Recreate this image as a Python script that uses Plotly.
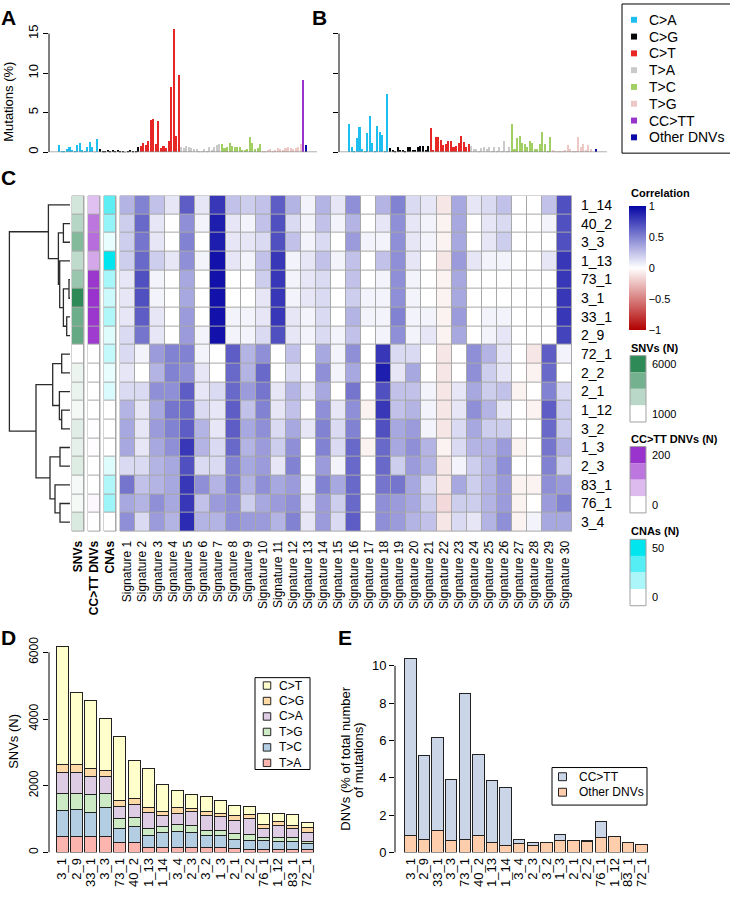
import plotly.graph_objects as go

W, H = 730, 900
FONT = "Liberation Sans, Arial, Helvetica, sans-serif"

# ---------------- Panels A / B : mutational spectra (% of mutations) ----------------
spectrum_classes = ["C>A", "C>G", "C>T", "T>A", "T>C", "T>G", "CC>TT", "Other DNVs"]
spectrum_colors = ["#1EBFF0", "#050708", "#E62725", "#CBCACB", "#A1CF64", "#EDC8C5", "#9933CC", "#0A0AA8"]
bases = ["A", "C", "G", "T"]

a_CA = [0.9, 0.1, 0.1, 0.4, 0.7, 0.3, 0.1, 0.9, 1.15, 0.25, 0.1, 0.65, 1.3, 0.7, 0.05, 1.7]
a_CG = [0.4, 0.2, 0.1, 0.3, 0.2, 0.3, 0.1, 0.3, 0.15, 0.1, 0.05, 0.2, 0.3, 0.2, 0.1, 0.6]
a_CT = [0.8, 1.2, 0.9, 1.4, 4.1, 4.2, 1.0, 4.0, 0.5, 0.8, 0.5, 1.4, 8.3, 15.6, 2.1, 9.8]
a_TA = [0.7, 0.5, 0.8, 0.6, 0.5, 0.4, 0.4, 0.2, 0.1, 0.4, 0.1, 0.7, 0.3, 0.6, 0.9, 1.0]
a_TC = [1.0, 0.5, 0.7, 1.1, 0.8, 0.6, 0.7, 0.7, 0.3, 0.3, 0.4, 1.9, 1.2, 0.4, 0.5, 1.0]
a_TG = [0.2, 0.2, 0.3, 0.4, 0.2, 0.3, 0.5, 0.4, 0.3, 0.5, 0.6, 0.5, 0.4, 0.5, 0.7, 1.0]
a_DNV = [9.1, 0.9]

b_CA = [3.5, 0.7, 0.1, 1.75, 3.2, 0.4, 0.1, 2.4, 4.6, 1.2, 0.1, 3.3, 2.6, 2.2, 0.1, 7.3]
b_CG = [0.5, 0.3, 0.1, 0.6, 0.3, 0.3, 0.1, 0.6, 0.6, 0.3, 0.3, 0.6, 0.8, 0.8, 0.3, 0.8]
b_CT = [3.0, 0.3, 1.9, 1.9, 1.6, 0.9, 1.0, 1.4, 1.4, 0.7, 0.8, 1.1, 2.0, 1.3, 0.7, 1.0]
b_TA = [0.8, 0.4, 0.4, 0.2, 0.5, 0.6, 0.4, 0.6, 0.2, 0.6, 0.2, 0.6, 0.2, 1.4, 0.1, 0.7]
b_TC = [3.6, 0.4, 1.75, 2.1, 1.1, 1.0, 0.7, 1.4, 1.2, 0.4, 0.4, 1.0, 2.5, 1.0, 0.2, 1.9]
b_TG = [0.3, 0.1, 0.1, 0.1, 0.1, 0.3, 0.9, 0.4, 0.1, 0.2, 1.9, 0.7, 1.0, 0.3, 0.9, 0.4]
b_DNV = [0.0, 0.4]

# ---------------- Panel C : correlation heatmap ----------------
row_labels = ["1_14", "40_2", "3_3", "1_13", "73_1", "3_1", "33_1", "2_9", "72_1",
              "2_2", "2_1", "1_12", "3_2", "1_3", "2_3", "83_1", "76_1", "3_4"]
signature_labels = ["Signature %d" % i for i in range(1, 31)]
corr = [
    [0.30, 0.50, 0.25, 0.10, 0.65, 0.10, 0.80, 0.25, 0.20, 0.25, 0.65, 0.30, 0.05, 0.30, 0.10, 0.45, 0.00, 0.30, 0.50, 0.15, 0.10, -0.10, 0.35, 0.10, 0.15, 0.25, 0.00, 0.00, 0.25, 0.70],
    [0.20, 0.60, 0.10, 0.00, 0.45, 0.05, 0.90, 0.10, 0.05, 0.25, 0.70, 0.15, 0.05, 0.25, 0.05, 0.30, 0.00, 0.10, 0.45, 0.10, 0.05, -0.05, 0.35, 0.00, 0.10, 0.15, 0.00, 0.00, 0.05, 0.70],
    [0.20, 0.55, 0.10, 0.00, 0.50, 0.00, 0.90, 0.10, 0.10, 0.15, 0.70, 0.25, 0.05, 0.15, 0.00, 0.40, 0.05, 0.05, 0.45, 0.10, 0.05, -0.05, 0.35, 0.00, 0.10, 0.20, 0.00, 0.00, 0.00, 0.70],
    [0.20, 0.60, 0.20, 0.10, 0.45, 0.05, 0.95, 0.10, 0.05, 0.25, 0.80, 0.05, 0.10, 0.25, 0.05, 0.25, 0.00, 0.25, 0.45, 0.10, 0.00, -0.10, 0.40, 0.10, 0.05, 0.05, 0.00, 0.00, 0.10, 0.80],
    [0.10, 0.70, 0.05, 0.00, 0.35, 0.00, 0.95, 0.00, 0.00, 0.20, 0.80, 0.05, 0.10, 0.15, 0.00, 0.25, 0.00, 0.05, 0.45, 0.05, 0.00, -0.05, 0.35, 0.00, 0.00, 0.00, 0.00, 0.00, 0.00, 0.80],
    [0.10, 0.70, 0.05, 0.00, 0.35, 0.00, 0.95, 0.00, 0.00, 0.10, 0.80, 0.05, 0.10, 0.15, 0.00, 0.20, 0.05, 0.05, 0.45, 0.05, 0.00, -0.05, 0.35, 0.00, 0.00, 0.00, 0.00, 0.00, 0.00, 0.80],
    [0.10, 0.65, 0.10, 0.00, 0.40, 0.00, 0.95, 0.05, 0.05, 0.10, 0.80, 0.10, 0.05, 0.15, 0.00, 0.30, 0.05, 0.05, 0.50, 0.05, 0.05, -0.05, 0.40, 0.00, 0.05, 0.05, 0.00, 0.00, 0.00, 0.80],
    [0.15, 0.55, 0.10, 0.00, 0.40, 0.05, 0.95, 0.05, 0.05, 0.15, 0.70, 0.10, 0.05, 0.15, 0.05, 0.25, 0.00, 0.05, 0.45, 0.05, 0.10, -0.05, 0.35, 0.00, 0.05, 0.10, 0.00, 0.00, 0.00, 0.75],
    [0.15, 0.05, 0.40, 0.50, 0.50, 0.05, 0.00, 0.65, 0.30, 0.45, 0.00, 0.25, 0.00, 0.35, 0.05, 0.45, 0.00, 0.80, 0.15, 0.15, 0.00, -0.10, 0.00, 0.45, 0.30, 0.10, 0.00, -0.10, 0.65, 0.05],
    [0.10, 0.00, 0.30, 0.50, 0.45, 0.10, 0.00, 0.60, 0.30, 0.60, 0.00, 0.15, 0.00, 0.45, 0.05, 0.35, 0.00, 0.90, 0.10, 0.35, 0.00, -0.10, 0.00, 0.45, 0.20, 0.10, 0.00, -0.05, 0.60, 0.00],
    [0.15, 0.15, 0.45, 0.45, 0.65, 0.10, 0.15, 0.60, 0.40, 0.55, 0.10, 0.30, 0.10, 0.35, 0.00, 0.55, 0.00, 0.70, 0.25, 0.25, 0.05, -0.10, 0.10, 0.35, 0.20, 0.25, -0.05, 0.00, 0.50, 0.15],
    [0.30, 0.10, 0.35, 0.55, 0.60, 0.15, 0.10, 0.65, 0.25, 0.50, 0.10, 0.25, 0.00, 0.45, 0.10, 0.45, -0.05, 0.80, 0.25, 0.30, 0.05, -0.10, 0.10, 0.45, 0.30, 0.10, 0.00, -0.05, 0.65, 0.20],
    [0.35, 0.10, 0.40, 0.50, 0.65, 0.30, 0.10, 0.65, 0.35, 0.45, 0.15, 0.35, 0.10, 0.50, 0.15, 0.50, 0.00, 0.70, 0.35, 0.40, 0.05, -0.10, 0.15, 0.35, 0.20, 0.20, 0.00, 0.00, 0.60, 0.20],
    [0.35, 0.10, 0.35, 0.45, 0.80, 0.30, 0.15, 0.60, 0.30, 0.40, 0.20, 0.45, 0.00, 0.50, 0.15, 0.60, -0.05, 0.60, 0.35, 0.45, 0.30, -0.05, 0.15, 0.30, 0.30, 0.40, -0.05, 0.00, 0.55, 0.30],
    [0.15, 0.15, 0.30, 0.35, 0.70, 0.15, 0.15, 0.50, 0.35, 0.40, 0.10, 0.50, 0.00, 0.40, 0.05, 0.60, 0.00, 0.60, 0.20, 0.40, 0.30, -0.10, 0.05, 0.20, 0.30, 0.45, 0.00, 0.00, 0.50, 0.20],
    [0.55, 0.25, 0.30, 0.35, 0.80, 0.45, 0.30, 0.50, 0.30, 0.45, 0.35, 0.40, 0.05, 0.50, 0.35, 0.60, 0.00, 0.55, 0.55, 0.35, 0.15, -0.10, 0.35, 0.20, 0.30, 0.40, -0.05, -0.05, 0.45, 0.40],
    [0.35, 0.30, 0.45, 0.35, 0.80, 0.25, 0.40, 0.45, 0.20, 0.35, 0.40, 0.45, 0.10, 0.40, 0.20, 0.60, 0.00, 0.45, 0.40, 0.35, 0.20, -0.15, 0.20, 0.20, 0.30, 0.40, -0.05, 0.00, 0.40, 0.50],
    [0.45, 0.15, 0.40, 0.30, 0.85, 0.30, 0.30, 0.45, 0.40, 0.40, 0.30, 0.50, 0.10, 0.40, 0.15, 0.65, 0.00, 0.45, 0.40, 0.30, 0.25, -0.10, 0.15, 0.10, 0.30, 0.45, -0.05, 0.05, 0.35, 0.35],
]
cctt_counts = [65, 140, 150, 90, 205, 210, 205, 200, 0, 0, 0, 0, 2, 3, 0, 0, 8, 2]
cna_counts = [35, 23, 5, 55, 19, 11, 17, 7, 13, 5, 8, 0, 0, 0, 7, 17, 21, 0]

# dendrogram (R hclust style: negative = leaf row (1-based), positive = earlier merge)
dend_merge = [(-2, -3), (-5, -6), (-7, -8), (2, 3), (-4, 4), (1, 5), (-1, 6),
              (-9, -10), (-12, -13), (-11, 9), (8, 10), (-14, -15), (-17, -18),
              (-16, 13), (12, 14), (11, 15), (7, 16)]
dend_height = [8.3, 2.7, 5.0, 8.3, 12.0, 13.3, 23.3, 10.0, 10.0, 12.3, 19.0,
               11.7, 11.7, 16.7, 21.7, 35.7, 62.3]

# ---------------- Panel D : SNVs per sample ----------------
samples = ["3_1", "2_9", "33_1", "3_3", "73_1", "40_2", "1_13", "1_14", "3_4",
           "2_3", "3_2", "1_3", "2_1", "2_2", "76_1", "1_12", "83_1", "72_1"]
snv_classes = ["T>A", "T>C", "T>G", "C>A", "C>G", "C>T"]   # bottom -> top
snv_colors = ["#FBB4AE", "#B3CDE3", "#CCEBC5", "#DECBE4", "#FED9A6", "#FFFFCC"]
d_TA = [490, 490, 465, 465, 285, 305, 160, 160, 160, 150, 140, 150, 110, 100, 80, 100, 90, 80]
d_TC = [760, 800, 735, 875, 445, 465, 345, 430, 460, 450, 365, 345, 285, 255, 265, 235, 245, 185]
d_TG = [520, 480, 545, 435, 275, 285, 225, 190, 230, 210, 145, 165, 165, 170, 110, 100, 120, 70]
d_CA = [620, 620, 535, 495, 365, 385, 470, 335, 325, 405, 445, 405, 385, 490, 255, 385, 255, 275]
d_CG = [255, 255, 235, 195, 180, 180, 150, 110, 165, 115, 120, 110, 160, 120, 140, 100, 110, 130]
d_CT = [3525, 2155, 2055, 1550, 1915, 1135, 1165, 800, 505, 395, 475, 395, 305, 245, 325, 255, 325, 150]

# ---------------- Panel E : DNVs (% of all mutations) ----------------
dnv_classes = ["Other DNVs", "CC>TT"]  # bottom -> top
dnv_colors = ["#FDCDAC", "#CBD5E8"]
e_other = [0.93, 0.69, 1.20, 0.63, 0.69, 0.90, 0.55, 0.39, 0.49, 0.35, 0.56, 0.62, 0.65, 0.58, 0.78, 0.83, 0.56, 0.41]
e_cctt = [9.46, 4.50, 4.94, 3.30, 7.81, 4.36, 3.33, 3.10, 0.22, 0.20, 0.00, 0.37, 0.00, 0.04, 0.86, 0.05, 0.00, 0.00]

# ======================================================================
def px(p):
    return p / W


def py(p):
    return 1 - p / H


def mix_white(hexcol, t):
    h = hexcol.lstrip("#")
    r, g, b = int(h[0:2], 16), int(h[2:4], 16), int(h[4:6], 16)
    return "rgb(%d,%d,%d)" % (round(255 + (r - 255) * t), round(255 + (g - 255) * t), round(255 + (b - 255) * t))


fig = go.Figure()
shapes = []
annotations = []


def txt(text, x, y, size, xanchor="left", yanchor="middle", angle=0):
    annotations.append(dict(text=text, x=px(x), y=py(y), xref="paper", yref="paper", xanchor=xanchor,
                            yanchor=yanchor, textangle=angle, showarrow=False, font=dict(size=size)))


def legend_box(x0, y0, x1, y1, entries, sq_cx, sq_size, text_x, row_y0, row_step, size, border):
    shapes.append(dict(type="rect", xref="paper", yref="paper", x0=px(x0), x1=px(x1), y0=py(y0), y1=py(y1),
                       fillcolor="white", line=dict(color="black", width=1)))
    for k, (label, col) in enumerate(entries):
        cy = row_y0 + k * row_step
        shapes.append(dict(type="rect", xref="paper", yref="paper",
                           x0=px(sq_cx - sq_size / 2), x1=px(sq_cx + sq_size / 2),
                           y0=py(cy - sq_size / 2), y1=py(cy + sq_size / 2), fillcolor=col,
                           line=dict(color="#222" if border else col, width=1 if border else 0)))
        txt(label, text_x, cy, size)


# ---- A / B bars
contexts = {}
for cls in spectrum_classes[:6]:
    contexts[cls] = ["%s[%s]%s" % (l, cls, r) for l in bases for r in bases]
contexts["CC>TT"] = ["CC>TT"]
contexts["Other DNVs"] = ["Other DNVs"]
all_contexts = [c for cls in spectrum_classes for c in contexts[cls]]

a_vals = dict(zip(spectrum_classes, [a_CA, a_CG, a_CT, a_TA, a_TC, a_TG, a_DNV[:1], a_DNV[1:]]))
b_vals = dict(zip(spectrum_classes, [b_CA, b_CG, b_CT, b_TA, b_TC, b_TG, b_DNV[:1], b_DNV[1:]]))

for xa, ya, vals in [("x", "y", a_vals), ("x2", "y2", b_vals)]:
    for cls, col in zip(spectrum_classes, spectrum_colors):
        fig.add_trace(go.Bar(x=contexts[cls], y=vals[cls], name=cls, marker=dict(color=col, line=dict(width=0)),
                             width=0.8, xaxis=xa, yaxis=ya, showlegend=False))

legend_box(622, 1, 740, 152, list(zip(spectrum_classes, spectrum_colors)),
           634, 6, 647, 17, 17, 14, False)

# ---- C dendrogram
pos = {}
dx, dy = [], []


def node(c):
    if c < 0:
        return 0.0, float(-c - 1)
    return pos[c]


for i, ((a, b), h) in enumerate(zip(dend_merge, dend_height), start=1):
    ha, ya = node(a)
    hb, yb = node(b)
    dx += [ha, h, h, hb, None]
    dy += [ya, ya, yb, yb, None]
    pos[i] = (h, (ya + yb) / 2)
fig.add_trace(go.Scatter(x=dx, y=dy, mode="lines", line=dict(color="#2b2b2b", width=1.3),
                         xaxis="x3", yaxis="y3", showlegend=False, hoverinfo="skip"))

# ---- C heatmap
corr_scale = [[0, "#B20000"], [0.5, "#FFFFFF"], [1, "#0505A5"]]
fig.add_trace(go.Heatmap(
    z=corr, x=list(range(30)), y=list(range(18)), colorscale=corr_scale, zmin=-1, zmax=1,
    xgap=1, ygap=1, xaxis="x4", yaxis="y4",
    colorbar=dict(x=px(629), xanchor="left", y=py(268), yanchor="middle", len=124, lenmode="pixels",
                  thickness=17, thicknessmode="pixels", xpad=0, ypad=0, outlinewidth=0,
                  tickvals=[-1, -0.5, 0, 0.5, 1], ticktext=["\u22121", "\u22120.5", "0", "0.5", "1"],
                  ticks="", tickfont=dict(size=11, family=FONT))))

snv_total = [sum(v) for v in zip(d_TA, d_TC, d_TG, d_CA, d_CG, d_CT)]
snv_by_sample = dict(zip(samples, snv_total))
snv_rows = [snv_by_sample[r] for r in row_labels]

ann_cols = [
    ("SNVs", snv_rows, "#2E8B57", min(snv_total), max(snv_total), (-3.685, -2.889)),
    ("CC>TT DNVs", cctt_counts, "#9A32CD", 0, max(cctt_counts), (-2.623, -1.827)),
    ("CNAs", cna_counts, "#00E5EE", 0, max(cna_counts), (-1.562, -0.765)),
]
for name, vals, col, lo, hi, edges in ann_cols:
    fig.add_trace(go.Heatmap(z=[[v] for v in vals], x=list(edges), y=list(range(18)),
                             colorscale=[[0, "#FFFFFF"], [1, col]], zmin=lo, zmax=hi, showscale=False,
                             xgap=1, ygap=1, xaxis="x4", yaxis="y4", name=name))
    shapes.append(dict(type="rect", xref="x4", yref="y4", x0=edges[0], x1=edges[1], y0=-0.5, y1=17.5,
                       fillcolor="#A8A8A8", line=dict(color="#A8A8A8", width=1), layer="below"))
shapes.append(dict(type="rect", xref="x4", yref="y4", x0=-0.5, x1=29.5, y0=-0.5, y1=17.5,
                   fillcolor="#A8A8A8", line=dict(color="#A8A8A8", width=1), layer="below"))

# ---- D stacked bars
d_vals = [d_TA, d_TC, d_TG, d_CA, d_CG, d_CT]
for cls, col, vals in zip(snv_classes, snv_colors, d_vals):
    fig.add_trace(go.Bar(x=samples, y=vals, name=cls, marker=dict(color=col, line=dict(color="#222", width=1)),
                         width=0.833, xaxis="x5", yaxis="y5", showlegend=False))
legend_box(255, 683, 310, 776, list(zip(snv_classes[::-1], snv_colors[::-1])),
           267, 7.5, 277, 691, 15.65, 12, True)

# ---- E stacked bars
for cls, col, vals in zip(dnv_classes, dnv_colors, [e_other, e_cctt]):
    fig.add_trace(go.Bar(x=samples, y=vals, name=cls, marker=dict(color=col, line=dict(color="#222", width=1)),
                         width=0.833, xaxis="x6", yaxis="y6", showlegend=False))
legend_box(552, 774, 647, 812, list(zip(dnv_classes[::-1], dnv_colors[::-1])),
           562.5, 8, 577, 783.3, 15.7, 12, True)

# ---- axis lines (R style: only across tick range) and baselines
for xref, yref, top in [("x", "y", 15), ("x2", "y2", 15), ("x5", "y5", 6000), ("x6", "y6", 10)]:
    shapes.append(dict(type="line", xref=xref + " domain", yref=yref, x0=0, x1=0, y0=0, y1=top,
                       line=dict(color="black", width=1)))
for xref, yref in [("x", "y"), ("x2", "y2")]:
    shapes.append(dict(type="line", xref=xref + " domain", yref=yref, x0=0, x1=1, y0=0, y1=0,
                       line=dict(color="#8c8c8c", width=1.3)))

# ---- discrete annotation legends (right of heatmap)
leg_specs = [("SNVs (N)", "#2E8B57", 349, 357, ["6000", "1000"]),
             ("CC>TT DNVs (N)", "#9A32CD", 441, 449, ["200", "0"]),
             ("CNAs (N)", "#00E5EE", 535, 543, ["50", "0"])]
box_h = 16.8
for title, col, ty, top, labs in leg_specs:
    txt("<b>%s</b>" % title, 629, ty, 11)
    for k, t in enumerate([1, 2 / 3, 1 / 3, 0]):
        shapes.append(dict(type="rect", xref="paper", yref="paper", x0=px(630), x1=px(646),
                           y0=py(top + k * box_h), y1=py(top + (k + 1) * box_h),
                           fillcolor=mix_white(col, t), line=dict(width=0)))
    shapes.append(dict(type="rect", xref="paper", yref="paper", x0=px(630), x1=px(646),
                       y0=py(top), y1=py(top + 4 * box_h), fillcolor="rgba(0,0,0,0)",
                       line=dict(color="#A0A0A0", width=1)))
    txt(labs[0], 650, top + box_h / 2, 11)
    txt(labs[1], 650, top + 3.5 * box_h, 11)

txt("<b>Correlation</b>", 629, 192, 11)

# panel letters
for letter, (lx, ly) in {"A": (8.5, 15), "B": (319, 15), "C": (8.5, 177), "D": (8.5, 642), "E": (344.5, 642)}.items():
    txt("<b>%s</b>" % letter, lx, ly, 21, xanchor="center")

# axis titles
txt("Mutations (%)", 9, 100, 13, xanchor="center", angle=-90)
txt("SNVs (N)", 14, 748, 13, xanchor="center", angle=-90)
txt("DNVs (% of total number", 346, 765, 13, xanchor="center", angle=-90)
txt("of mutations)", 359, 767, 13, xanchor="center", angle=-90)

noaxis = dict(showgrid=False, zeroline=False, showline=False)
ann_centers = [sum(c[5]) / 2 for c in ann_cols]

fig.update_layout(
    width=W, height=H, margin=dict(l=0, r=0, t=0, b=0),
    paper_bgcolor="white", plot_bgcolor="white",
    font=dict(family=FONT, color="black"),
    barmode="stack", hovermode=False, showlegend=False,
    shapes=shapes, annotations=annotations,
    # A
    xaxis=dict(domain=[px(49), px(317)], range=[-4.06, 101.4], type="category",
               categoryorder="array", categoryarray=all_contexts, showticklabels=False, ticks="",
               anchor="y", **noaxis),
    yaxis=dict(domain=[py(151), py(21)], range=[0, 16.25], tickvals=[0, 5, 10, 15], ticks="outside",
               ticklen=5, tickcolor="black", tickangle=-90, tickfont=dict(size=13), anchor="x", **noaxis),
    # B
    xaxis2=dict(domain=[px(339), px(607)], range=[-4.06, 101.4], type="category",
                categoryorder="array", categoryarray=all_contexts, showticklabels=False, ticks="",
                anchor="y2", **noaxis),
    yaxis2=dict(domain=[py(151), py(21)], range=[0, 16.25], tickvals=[0, 5, 10, 15], ticks="outside",
                ticklen=5, tickcolor="black", showticklabels=False, anchor="x2", **noaxis),
    # C dendrogram
    xaxis3=dict(domain=[px(8), px(72)], range=[63.7, -0.3], visible=False, anchor="y3", **noaxis),
    yaxis3=dict(domain=[py(535), py(195)], range=[17.5, -0.5], visible=False, anchor="x3", **noaxis),
    # C heatmap
    xaxis4=dict(domain=[px(70), px(572)], range=[-3.817, 29.49],
                tickvals=ann_centers + list(range(30)),
                ticktext=["<b>%s</b>" % c[0] for c in ann_cols] + signature_labels,
                tickangle=-90, tickfont=dict(size=12), ticks="", ticklabelstandoff=6,
                anchor="y4", **noaxis),
    yaxis4=dict(domain=[py(535), py(195)], range=[17.5, -0.5], side="right",
                tickvals=list(range(18)), ticktext=row_labels, tickfont=dict(size=14), ticks="",
                ticklabelstandoff=8, anchor="x4", **noaxis),
    # D
    xaxis5=dict(domain=[px(49), px(320)], range=[-0.902, 17.9], type="category",
                categoryorder="array", categoryarray=samples, tickmode="array", tickvals=samples,
                ticktext=samples, tickangle=-90, tickfont=dict(size=13),
                ticks="", ticklabelstandoff=2, anchor="y5", **noaxis),
    yaxis5=dict(domain=[py(860), py(645)], range=[0, 6365], tickvals=[0, 2000, 4000, 6000], ticks="outside",
                ticklen=5, tickcolor="black", tickangle=-90, tickfont=dict(size=12), anchor="x5", **noaxis),
    # E
    xaxis6=dict(domain=[px(395), px(655)], range=[-1.132, 17.985], type="category",
                categoryorder="array", categoryarray=samples, tickmode="array", tickvals=samples,
                ticktext=samples, tickangle=-90, tickfont=dict(size=13),
                ticks="", ticklabelstandoff=2, anchor="y6", **noaxis),
    yaxis6=dict(domain=[py(860), py(655)], range=[0, 10.85], tickvals=[0, 2, 4, 6, 8, 10], ticks="outside",
                ticklen=5, tickcolor="black", tickfont=dict(size=13), anchor="x6", **noaxis),
)

# remove the browser's default 8px page margin so the 730x900 figure fills the window exactly
fig.write_html("out.html", config={"displayModeBar": False},
               post_script="document.body.style.margin='0px';")
